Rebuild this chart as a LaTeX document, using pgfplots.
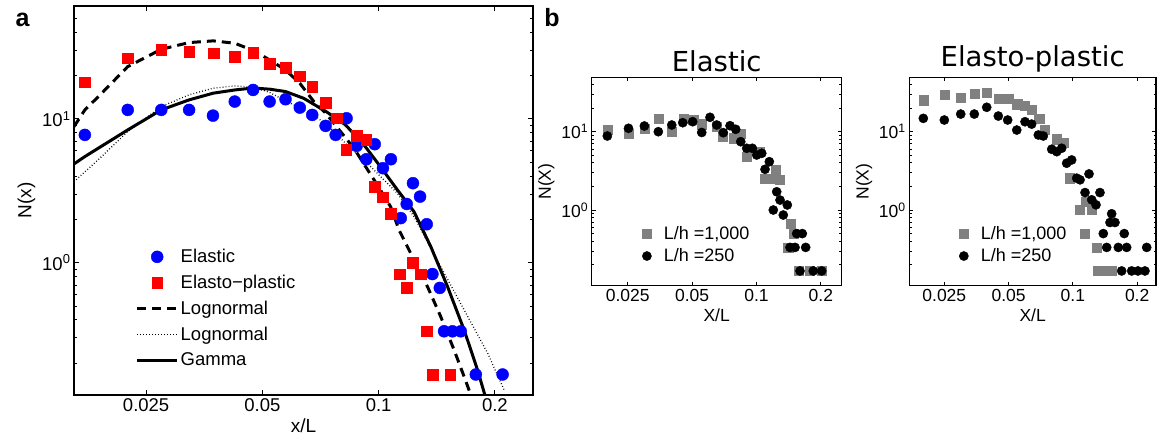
\documentclass[border=0pt]{standalone}
\usepackage{fontspec}
\setmainfont{Liberation Sans}
\newfontfamily\dejavu{DejaVu Sans}
\usepackage{pgfplots}
\pgfplotsset{compat=1.18}
\definecolor{mblue}{RGB}{0,0,255}
\definecolor{mred}{RGB}{255,0,0}
\definecolor{mgray}{RGB}{128,128,128}
\begin{document}
\begin{tikzpicture}
\useasboundingbox (0pt,-445pt) rectangle (1157pt,0pt);
% ---------------- panel a ----------------
\pgfplotsset{legend image code/.code={\draw[mark repeat=2,mark phase=2,#1] plot coordinates {(0pt,0pt) (20pt,0pt) (40pt,0pt)};}}
\begin{axis}[at={(74pt,-395pt)}, anchor=south west,
  scale only axis, xmode=log, ymode=log,
  width=459pt, height=389pt,
  xmin=0.01626, xmax=0.251, ymin=0.12, ymax=61,
  axis line style={line width=1.2pt},
  tick align=inside,
  tick style={black, line width=0.8pt},
  xtick={0.025,0.05,0.1,0.2}, xticklabels={0.025,0.05,0.1,0.2},
  ytick={1,10}, yticklabels={10\textsuperscript{0},10\textsuperscript{1}},
  minor ytick={0.2,0.3,0.4,0.5,0.6,0.7,0.8,0.9,2,3,4,5,6,7,8,9,20,30,40,50},
  major tick length=5pt, minor tick length=3pt,
  tick label style={font=\fontsize{18.5}{20}\selectfont},
  label style={font=\fontsize{19}{21}\selectfont},
  xlabel={x/L}, ylabel={N(x)},
  legend style={draw=none, fill=none, at={(0.134,0.38)}, anchor=north west,
    font=\fontsize{18.5}{21}\selectfont, row sep=7pt, inner sep=0pt,
    cells={anchor=west}},
]
\addplot[only marks, mark=*, mark size=6pt, color=mblue] coordinates {
(0.01735,7.74) (0.0224,11.55) (0.02736,11.55) (0.0323,11.55) (0.03724,10.54)
(0.0424,13.2) (0.0473,15.9) (0.0522,13.2) (0.0574,13.7) (0.0625,11.98)
(0.0673,10.66) (0.0729,8.94) (0.0774,7.74) (0.0826,10.1) (0.0877,6.49)
(0.0929,5.24) (0.0977,6.67) (0.1026,4.54) (0.1076,5.24) (0.1141,2.04)
(0.1182,2.56) (0.1227,3.57) (0.128,2.88) (0.1332,1.85) (0.1378,0.833)
(0.144,0.667) (0.1477,0.333) (0.1553,0.333) (0.1632,0.333) (0.1785,0.1667)
(0.2094,0.1667)};
\addlegendentry{Elastic}
\addplot[only marks, mark=square*, mark size=5.3pt, color=mred] coordinates {
(0.01735,18.0) (0.0224,26.45) (0.02736,30.2) (0.0323,29.4) (0.0374,28.7)
(0.0424,27.1) (0.0473,28.9) (0.0522,24.3) (0.0574,22.6) (0.0625,19.8)
(0.0673,16.8) (0.0729,13.0) (0.0778,10.1) (0.0825,6.08) (0.0877,7.61)
(0.0929,7.14) (0.0977,3.38) (0.1026,2.85) (0.1076,2.19) (0.1134,0.833)
(0.1182,0.667) (0.1227,1.0) (0.1285,0.833) (0.133,0.333) (0.1378,0.1667)
(0.1531,0.1667)};
\addlegendentry{Elasto−plastic}
\addplot[black, line width=3pt, dash pattern=on 9pt off 6pt] coordinates {
(0.01626,8.84) (0.01735,11.55) (0.0190,14.7) (0.0224,23.1) (0.02736,30.5)
(0.0323,33.96) (0.0373,34.9) (0.0424,33.6) (0.0477,29.7) (0.0522,25.7)
(0.0574,21.9) (0.0625,17.7) (0.06795,13.2) (0.0729,10.96) (0.0797,8.16)
(0.0863,6.25) (0.0925,4.66) (0.0992,3.47) (0.1074,2.45) (0.1129,1.69)
(0.1235,1.044) (0.1338,0.681) (0.1448,0.421) (0.1568,0.247) (0.1665,0.161)
(0.1733,0.120)};
\addlegendentry{Lognormal}
\addplot[black, line width=1.3pt, dash pattern=on 0.8pt off 2.2pt] coordinates {
(0.01626,3.66) (0.01735,4.28) (0.0190,5.35) (0.0224,8.16) (0.02736,12.18)
(0.0323,14.7) (0.0373,16.36) (0.0424,16.97) (0.0473,16.6) (0.0522,15.3)
(0.0557,13.9) (0.06275,11.87) (0.06795,10.66) (0.0751,8.61) (0.0829,6.59)
(0.0916,5.18) (0.1012,3.97) (0.1118,3.04) (0.1235,2.09) (0.1448,0.938)
(0.1665,0.469) (0.1915,0.235) (0.2114,0.13)};
\addlegendentry{Lognormal}
\addplot[black, line width=3pt] coordinates {
(0.01626,4.86) (0.01735,5.47) (0.0224,8.38) (0.02736,11.55) (0.0323,13.56)
(0.0373,15.1) (0.0424,15.9) (0.0473,16.4) (0.0522,16.1) (0.0574,15.5)
(0.064,13.9) (0.0733,11.2) (0.0821,9.08) (0.0916,6.6) (0.1012,4.63)
(0.1118,3.21) (0.1235,2.26) (0.1365,1.29) (0.1508,0.681) (0.1665,0.340)
(0.1804,0.179) (0.1884,0.120)};
\addlegendentry{Gamma}
\end{axis}
% ---------------- panel b, Elastic ----------------
\pgfplotsset{legend image code/.code={\draw[#1] plot coordinates {(0pt,0pt)}; \path[draw=none] (-5pt,0pt) (15pt,0pt);}}
\begin{axis}[at={(591.7pt,-285.7pt)}, anchor=south west,
  scale only axis, xmode=log, ymode=log,
  width=250pt, height=208.4pt,
  xmin=0.01696, xmax=0.2502, ymin=0.108, ymax=49.5,
  axis line style={line width=1.2pt},
  tick align=inside,
  tick style={black, line width=0.8pt},
  xtick={0.025,0.05,0.1,0.2}, xticklabels={0.025,0.05,0.1,0.2},
  ytick={1,10}, yticklabels={10\textsuperscript{0},10\textsuperscript{1}},
  minor ytick={0.2,0.3,0.4,0.5,0.6,0.7,0.8,0.9,2,3,4,5,6,7,8,9,20,30,40},
  major tick length=4pt, minor tick length=2.5pt,
  tick label style={font=\fontsize{17.5}{19}\selectfont},
  label style={font=\fontsize{17.5}{19}\selectfont},
  xlabel={X/L}, ylabel={N(X)},
  title={Elastic},
  title style={font=\dejavu\fontsize{27.5}{30}\selectfont, yshift=-4pt},
  legend style={draw=none, fill=none, at={(0.2,0.296)}, anchor=north west,
    font=\fontsize{18}{20}\selectfont, row sep=4pt, inner sep=0pt,
    cells={anchor=west}},
]
\addplot[only marks, mark=square*, mark size=4.6pt, color=mgray] coordinates {
(0.02007,10.5) (0.0252,9.54) (0.0301,11.05) (0.03475,14.5) (0.04015,10.0)
(0.0455,14.8) (0.0506,14.1) (0.05545,12.5) (0.06515,11.6) (0.0695,8.63)
(0.0779,8.24) (0.0844,9.54) (0.090,4.80) (0.1039,5.55) (0.1096,2.54)
(0.1157,2.54) (0.1234,3.24) (0.1288,2.42) (0.1445,0.667) (0.1486,0.5)
(0.1408,0.333) (0.158,0.1667) (0.1779,0.1667) (0.2024,0.1667)};
\addlegendentry{L/h =1,000}
\addplot[only marks, mark=*, mark size=4.6pt, color=black] coordinates {
(0.02007,8.81) (0.0252,11.05) (0.0299,11.83) (0.03475,10.0) (0.04015,12.18)
(0.0452,13.03) (0.0503,13.42) (0.05545,9.77) (0.0606,15.27) (0.06515,12.18)
(0.06995,9.71) (0.0752,11.93) (0.07995,10.73) (0.0844,7.45) (0.090,6.14)
(0.0956,6.14) (0.1002,5.04) (0.1058,5.30) (0.1096,3.31) (0.1148,4.14)
(0.1243,1.71) (0.1288,1.34) (0.1393,1.16) (0.1198,1.0) (0.1334,0.863)
(0.1541,0.5) (0.1637,0.5) (0.1434,0.333) (0.1514,0.333) (0.1698,0.333)
(0.1597,0.1667) (0.1843,0.1667) (0.2017,0.1667)};
\addlegendentry{L/h =250}
\end{axis}
% ---------------- panel b, Elasto-plastic ----------------
\begin{axis}[at={(909.3pt,-285.7pt)}, anchor=south west,
  scale only axis, xmode=log, ymode=log,
  width=246.7pt, height=208.4pt,
  xmin=0.01714, xmax=0.245, ymin=0.108, ymax=49.5,
  axis line style={line width=1.2pt},
  tick align=inside,
  tick style={black, line width=0.8pt},
  xtick={0.025,0.05,0.1,0.2}, xticklabels={0.025,0.05,0.1,0.2},
  ytick={1,10}, yticklabels={10\textsuperscript{0},10\textsuperscript{1}},
  minor ytick={0.2,0.3,0.4,0.5,0.6,0.7,0.8,0.9,2,3,4,5,6,7,8,9,20,30,40},
  major tick length=4pt, minor tick length=2.5pt,
  tick label style={font=\fontsize{17.5}{19}\selectfont},
  label style={font=\fontsize{17.5}{19}\selectfont},
  xlabel={X/L}, ylabel={N(X)},
  title={Elasto-plastic},
  title style={font=\dejavu\fontsize{27.5}{30}\selectfont, yshift=-4pt},
  legend style={draw=none, fill=none, at={(0.2,0.296)}, anchor=north west,
    font=\fontsize{18}{20}\selectfont, row sep=4pt, inner sep=0pt,
    cells={anchor=west}},
]
\addplot[only marks, mark=square*, mark size=4.6pt, color=mgray] coordinates {
(0.01994,25.3) (0.025,29.9) (0.02984,27.1) (0.03455,30.8) (0.0395,31.8)
(0.0451,26.1) (0.0498,26.1) (0.0549,22.5) (0.0597,21.3) (0.0641,18.9)
(0.0696,14.8) (0.0740,10.5) (0.0840,8.0) (0.0902,7.24) (0.0969,2.55)
(0.108,1.0) (0.1225,1.0) (0.1152,1.27) (0.114,0.5) (0.1293,0.333)
(0.131,0.1667) (0.1429,0.1667) (0.1524,0.1667)};
\addlegendentry{L/h =1,000}
\addplot[only marks, mark=*, mark size=4.6pt, color=black] coordinates {
(0.01994,14.8) (0.025,14.1) (0.02984,16.8) (0.03455,16.8) (0.0395,20.5)
(0.04475,15.85) (0.0495,14.1) (0.0546,10.5) (0.0597,13.4) (0.0641,12.5)
(0.0689,9.08) (0.0727,8.81) (0.0796,5.97) (0.0840,5.56) (0.0886,6.15)
(0.0935,3.96) (0.0987,4.36) (0.1042,2.55) (0.108,2.43) (0.119,2.89)
(0.114,1.67) (0.1225,1.35) (0.1283,1.165) (0.1339,1.67) (0.1519,0.895)
(0.1492,0.693) (0.1574,0.693) (0.1388,0.5) (0.174,0.5) (0.144,0.333)
(0.1632,0.333) (0.1786,0.333) (0.2216,0.333) (0.1692,0.1667) (0.1885,0.1667)
(0.2017,0.1667) (0.2175,0.1667)};
\addlegendentry{L/h =250}
\end{axis}
\node[font=\bfseries\fontsize{25}{28}\selectfont] at (22.5pt,-20pt) {a};
\node[font=\bfseries\fontsize{25}{28}\selectfont] at (552pt,-18pt) {b};
\end{tikzpicture}
\end{document}
